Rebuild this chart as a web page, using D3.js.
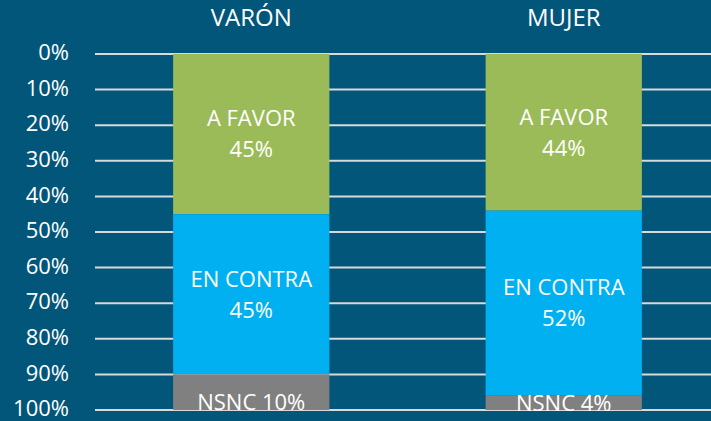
<!DOCTYPE html>
<html>
<head>
<meta charset="utf-8">
<script src="https://cdn.jsdelivr.net/npm/d3@7"></script>
<style>
  body { margin: 0; background: #02567a; }
  svg { display: block; font-family: 'Open Sans', 'Noto Sans', sans-serif; }
</style>
</head>
<body>
<div class="container"></div>
<script>
// Data
const groups = ['VARÓN', 'MUJER'];
const segments = ['A FAVOR', 'EN CONTRA', 'NSNC'];
const favor = [45, 44];
const contra = [45, 52];
const nsnc = [10, 4];
const ticks = [0, 10, 20, 30, 40, 50, 60, 70, 80, 90, 100];

const width = 711;
const height = 421;
const font = "'Open Sans', 'Noto Sans', sans-serif";
const colors = { 'A FAVOR': '#9bbb59', 'EN CONTRA': '#00b0f0', 'NSNC': '#808080' };

const rows = groups.map((g, i) => ({
  group: g,
  'A FAVOR': favor[i],
  'EN CONTRA': contra[i],
  'NSNC': nsnc[i],
}));
const series = d3.stack().keys(segments)(rows);

const svg = d3
  .select('.container')
  .append('svg')
  .attr('width', width)
  .attr('height', height);

const x = d3.scaleBand().domain(groups).range([95, 720]).paddingInner(0.5).paddingOuter(0.25);
const y = d3.scaleLinear().domain([0, 100]).range([54, 410]);

// Gridlines
svg
  .append('g')
  .selectAll('line')
  .data(ticks)
  .enter()
  .append('line')
  .attr('x1', 95)
  .attr('x2', width)
  .attr('y1', (d) => y(d))
  .attr('y2', (d) => y(d))
  .attr('stroke', '#d9d9d9')
  .attr('stroke-width', 2);

// Y axis labels
const yAxis = d3.axisLeft(y).tickValues(ticks).tickFormat((d) => d + '%').tickSize(0).tickPadding(0);
svg
  .append('g')
  .attr('transform', 'translate(69,0)')
  .call(yAxis)
  .attr('font-family', font)
  .call((g) => g.select('.domain').remove())
  .selectAll('text')
  .attr('fill', '#fff')
  .attr('dy', '0.26em')
  .style('font-size', '22px');

// Bars
const layer = svg
  .append('g')
  .selectAll('g')
  .data(series)
  .enter()
  .append('g')
  .attr('fill', (s) => colors[s.key]);

layer
  .selectAll('rect')
  .data((s) => s.map((d) => ({ key: s.key, d })))
  .enter()
  .append('rect')
  .attr('x', (e) => x(e.d.data.group))
  .attr('width', x.bandwidth())
  .attr('y', (e) => y(e.d[0]))
  .attr('height', (e) => y(e.d[1]) - y(e.d[0]));

// Segment labels
series.forEach((s) => {
  s.forEach((d) => {
    const cx = x(d.data.group) + x.bandwidth() / 2;
    const cy = (y(d[0]) + y(d[1])) / 2;
    const val = d[1] - d[0];
    const t = svg
      .append('text')
      .attr('x', cx)
      .attr('text-anchor', 'middle')
      .attr('fill', '#fff')
      .style('font-size', '22px');
    if (s.key === 'NSNC') {
      t.attr('y', Math.max(cy, 402)).attr('dy', '0.35em').text(`${s.key} ${val}%`);
    } else {
      t.append('tspan').attr('x', cx).attr('y', cy - 15.5).attr('dy', '0.35em').text(s.key);
      t.append('tspan').attr('x', cx).attr('y', cy + 15.5).attr('dy', '0.35em').text(val + '%');
    }
  });
});

// Category labels
svg
  .append('g')
  .selectAll('text')
  .data(groups)
  .enter()
  .append('text')
  .attr('x', (d) => x(d) + x.bandwidth() / 2)
  .attr('y', 18)
  .attr('dy', '0.35em')
  .attr('text-anchor', 'middle')
  .attr('fill', '#fff')
  .style('font-size', '24px')
  .text((d) => d);
</script>
</body>
</html>
